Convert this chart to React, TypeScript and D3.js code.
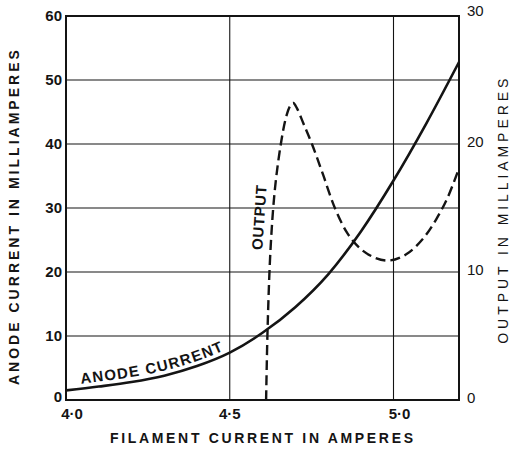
import React from 'react';
import * as d3 from 'd3';

// filament current (A) vs anode current (mA)
const anodeX = [4.0, 4.1, 4.2, 4.3, 4.4, 4.5, 4.6, 4.7, 4.8, 4.9, 5.0, 5.1, 5.2];
const anodeY = [1.5, 2.1, 2.8, 3.8, 5.3, 7.4, 10.5, 14.5, 19.6, 26.3, 34.3, 43.2, 52.8];

// filament current (A) vs output (mA, right axis)
const outputX = [4.611, 4.616, 4.625, 4.638, 4.656, 4.672, 4.685, 4.694, 4.705, 4.725, 4.751, 4.785, 4.821, 4.86, 4.9, 4.945, 4.989, 5.04, 5.09, 5.13, 5.165, 5.2];
const outputY = [0, 6, 12, 16.5, 20, 22.1, 23.0, 23.2, 22.8, 21.6, 20, 17.6, 15, 13, 11.8, 11.1, 10.9, 11.4, 12.6, 14.1, 15.8, 18.1];

const xTicks = [4.0, 4.5, 5.0];
const xTickLabels = ['4·0', '4·5', '5·0'];
const leftTicks = [0, 10, 20, 30, 40, 50, 60];
const rightTicks = [0, 10, 20, 30];

const W = 513;
const H = 450;
const margin = { top: 16, right: 54, bottom: 50, left: 66 };
const FONT = '"Liberation Sans", Arial, sans-serif';
const INK = '#141414';

export default function App() {
  const innerW = W - margin.left - margin.right;
  const innerH = H - margin.top - margin.bottom;

  const x = d3.scaleLinear().domain([4.0, 5.2]).range([0, innerW]);
  const yL = d3.scaleLinear().domain([0, 60]).range([innerH, 0]);
  const yR = d3.scaleLinear().domain([0, 30]).range([innerH, 0]);

  const anode = anodeX.map((v, i) => [v, anodeY[i]] as [number, number]);
  const output = outputX.map((v, i) => [v, outputY[i]] as [number, number]);

  const anodeLine = d3.line<[number, number]>()
    .x(d => x(d[0]))
    .y(d => yL(d[1]))
    .curve(d3.curveMonotoneX);

  // same curve lifted a little, used as the label's baseline
  const anodeLabelLine = d3.line<[number, number]>()
    .x(d => x(d[0]))
    .y(d => yL(d[1]) - 5)
    .curve(d3.curveMonotoneX);

  const outputLine = d3.line<[number, number]>()
    .x(d => x(d[0]))
    .y(d => yR(d[1]))
    .curve(d3.curveCatmullRom.alpha(0.5));

  const outLabelX = x(4.6) + 2;
  const outLabelY = yL(28.5);

  return (
    <svg width={W} height={H} style={{ position: 'absolute', left: 0, top: 0, background: '#fff' }}>
      <g transform={`translate(${margin.left},${margin.top})`} fontFamily={FONT} fontWeight="bold" fill={INK}>
        {/* grid */}
        {leftTicks.slice(1, -1).map(t => (
          <line key={'h' + t} x1={0} x2={innerW} y1={yL(t)} y2={yL(t)} stroke={INK} strokeWidth={1.1} />
        ))}
        {xTicks.slice(1).map(t => (
          <line key={'v' + t} x1={x(t)} x2={x(t)} y1={0} y2={innerH} stroke={INK} strokeWidth={1.1} />
        ))}

        {/* frame */}
        <rect x={0} y={0} width={innerW} height={innerH} fill="none" stroke={INK} strokeWidth={2} />

        {/* curves */}
        <path d={anodeLine(anode) || ''} fill="none" stroke={INK} strokeWidth={2.6} />
        <path d={outputLine(output) || ''} fill="none" stroke={INK} strokeWidth={2.4} strokeDasharray="10 5" />

        {/* curve labels */}
        <path id="anode-label-path" d={anodeLabelLine(anode) || ''} fill="none" stroke="none" />
        <text fontSize={15} letterSpacing={1.3}>
          <textPath href="#anode-label-path" startOffset={15}>ANODE  CURRENT</textPath>
        </text>
        <text
          transform={`translate(${outLabelX},${outLabelY}) rotate(-86)`}
          textAnchor="middle"
          fontSize={15}
          letterSpacing={0.6}
        >
          OUTPUT
        </text>

        {/* left ticks */}
        {leftTicks.map(t => (
          <text key={'l' + t} x={-4} y={yL(t) + (t === 0 ? 2 : 5)} textAnchor="end" fontSize={15}>{t}</text>
        ))}

        {/* right ticks */}
        {rightTicks.map(t => (
          <text key={'r' + t} x={innerW + 8} y={yR(t) + (t === 30 ? 0 : 3)} fontSize={15} fontWeight="normal">{t}</text>
        ))}

        {/* x ticks */}
        {xTicks.map((t, i) => (
          <text key={'x' + t} x={x(t) + (i === 0 ? 6 : i === 2 ? 6 : 0)} y={innerH + 19} textAnchor="middle" fontSize={15}>
            {xTickLabels[i]}
          </text>
        ))}

        {/* axis titles */}
        <text
          x={innerW / 2 - 1}
          y={innerH + 43}
          textAnchor="middle"
          fontSize={14}
          textLength={303}
          lengthAdjust="spacing"
        >
          FILAMENT  CURRENT  IN  AMPERES
        </text>
        <text
          transform={`translate(${-47},${yL(28.5)}) rotate(-90)`}
          textAnchor="middle"
          fontSize={14}
          textLength={335}
          lengthAdjust="spacing"
        >
          ANODE  CURRENT  IN  MILLIAMPERES
        </text>
        <text
          transform={`translate(${innerW + 49},${yL(29.5)}) rotate(-90)`}
          textAnchor="middle"
          fontSize={14}
          fontWeight="normal"
          textLength={265}
          lengthAdjust="spacing"
        >
          OUTPUT  IN  MILLIAMPERES
        </text>
      </g>
    </svg>
  );
}
